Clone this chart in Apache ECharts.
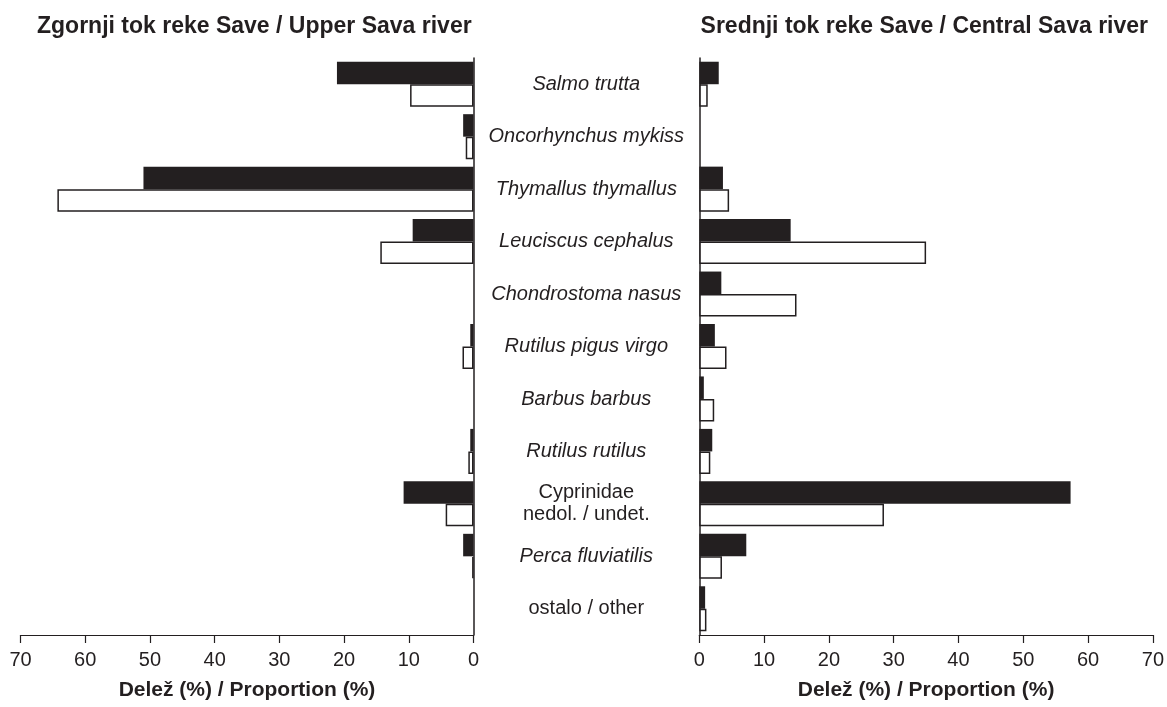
<!DOCTYPE html>
<html>
<head>
<meta charset="utf-8">
<script src="https://cdn.jsdelivr.net/npm/echarts@6/dist/echarts.min.js"></script>
<style>
  html, body { margin: 0; padding: 0; background: #fff; }
  #chart { width: 1167px; height: 707px; }
</style>
</head>
<body>
<div id="chart"></div>
<script>
// Fish species shown in the middle column (top to bottom)
const species = [
  'Salmo trutta', 'Oncorhynchus mykiss', 'Thymallus thymallus', 'Leuciscus cephalus',
  'Chondrostoma nasus', 'Rutilus pigus virgo', 'Barbus barbus', 'Rutilus rutilus',
  'Cyprinidae\nnedol. / undet.', 'Perca fluviatilis', 'ostalo / other'
];
// Labels that are not Latin species names (set upright)
const uprightLabels = ['Cyprinidae\nnedol. / undet.', 'ostalo / other'];

// Upper Sava river, proportion (%)
const upperBlack = [21.1, 1.6, 51.0, 9.4, 0, 0.5, 0, 0.5, 10.8, 1.6, 0];
const upperWhite = [9.8, 1.2, 64.3, 14.4, 0, 1.7, 0, 0.8, 4.3, 0.2, 0];

// Central Sava river, proportion (%)
const centralBlack = [3.0, 0, 3.65, 14.1, 3.4, 2.4, 0.7, 2.0, 57.3, 7.25, 0.9];
const centralWhite = [1.3, 0, 4.6, 35.0, 15.0, 4.2, 2.3, 1.7, 28.5, 3.5, 1.1];

const xTicks = [0, 10, 20, 30, 40, 50, 60, 70];

const titleLeft = 'Zgornji tok reke Save / Upper Sava river';
const titleRight = 'Srednji tok reke Save / Central Sava river';
const axisTitle = 'Delež (%) / Proportion (%)';

const ink = '#231f20';
const fontFamily = '"Liberation Sans", Arial, sans-serif';

const chart = echarts.init(document.getElementById('chart'), null, { renderer: 'canvas' });

const categoryData = species.map(function (s) {
  const upright = uprightLabels.indexOf(s) >= 0;
  return { value: s, textStyle: { fontStyle: upright ? 'normal' : 'italic', align: 'center' } };
});

function valueAxis(gridIndex, inverse) {
  return {
    type: 'value', gridIndex: gridIndex, inverse: inverse,
    min: xTicks[0], max: xTicks[xTicks.length - 1], interval: 10,
    name: axisTitle, nameLocation: 'middle', nameGap: 45,
    nameTextStyle: { fontFamily: fontFamily, fontWeight: 'bold', fontSize: 21, color: ink },
    axisLine: { show: true, lineStyle: { color: ink, width: 1.2 } },
    axisTick: { show: true, inside: false, length: 8, lineStyle: { color: ink, width: 1.2 } },
    axisLabel: { fontFamily: fontFamily, fontSize: 20, color: ink, margin: 15 },
    splitLine: { show: false }
  };
}

// Zero shares are left empty (no bar drawn)
function barSeries(xi, values, filled) {
  return {
    type: 'bar', xAxisIndex: xi, yAxisIndex: xi,
    data: values.map(function (v) { return v === 0 ? '-' : v; }),
    barWidth: 22.5, barGap: '0%',
    itemStyle: filled
      ? { color: ink, borderColor: ink, borderWidth: 0 }
      : { color: '#fff', borderColor: ink, borderWidth: 1.5 },
    silent: true
  };
}

const titleStyle = { fontFamily: fontFamily, fontWeight: 'bold', fontSize: 23, color: ink };

chart.setOption({
  animation: false,
  backgroundColor: '#fff',
  title: [
    { text: titleLeft, left: 32, top: 10, textStyle: titleStyle },
    { text: titleRight, right: 14, top: 10, textStyle: titleStyle }
  ],
  grid: [
    { left: 20.5, right: 693.5, top: 58, bottom: 72 },
    { left: 699.3, right: 13.7, top: 58, bottom: 72 }
  ],
  xAxis: [valueAxis(0, true), valueAxis(1, false)],
  yAxis: [
    { type: 'category', gridIndex: 0, position: 'right', inverse: true, data: species,
      axisLine: { show: true, lineStyle: { color: ink, width: 1.5 } },
      axisTick: { show: false }, axisLabel: { show: false } },
    { type: 'category', gridIndex: 1, position: 'left', inverse: true, data: categoryData,
      axisLine: { show: true, lineStyle: { color: ink, width: 1.5 } },
      axisTick: { show: false },
      axisLabel: { show: true, align: 'center', margin: 113, fontFamily: fontFamily,
        fontSize: 20, lineHeight: 22, color: ink } }
  ],
  series: [
    barSeries(0, upperBlack, true),
    barSeries(0, upperWhite, false),
    barSeries(1, centralBlack, true),
    barSeries(1, centralWhite, false)
  ]
});
</script>
</body>
</html>
